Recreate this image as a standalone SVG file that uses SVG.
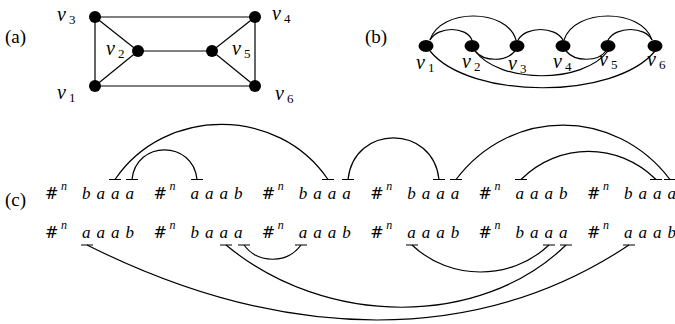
<svg xmlns="http://www.w3.org/2000/svg" width="675" height="324" viewBox="0 0 675 324">
<style>
.e{fill:none;stroke:#000;stroke-width:1.2}
.n{fill:#000}
.cap{font-family:"Liberation Serif","Times New Roman",serif;font-size:19px}
.v{font-family:"Liberation Serif","Times New Roman",serif;font-style:italic;font-size:20px}
.s{font-family:"Liberation Serif","Times New Roman",serif;font-size:13px}
.h{font-family:"DejaVu Serif",serif;font-size:16px}
.sup{font-family:"Liberation Serif","Times New Roman",serif;font-style:italic;font-size:12px}
.it{font-family:"Liberation Serif","Times New Roman",serif;font-style:italic;font-size:17px}
</style>
<rect width="675" height="324" fill="#fff"/>
<text class="cap" x="5" y="43">(a)</text>
<text class="cap" x="365" y="43">(b)</text>
<text class="cap" x="5" y="206">(c)</text>
<g id="a-edges">
<path class="e" d="M95 17H255M95 86H255M95 17V86M255 17V86M95 17L138 51L95 86M138 51H212M255 17L212 51L255 86"/>
</g>
<g id="a-v1"><circle class="n" cx="95" cy="86" r="6"/><text class="v" x="57" y="99">v</text><text class="s" x="69" y="102">1</text></g>
<g id="a-v2"><circle class="n" cx="138" cy="51" r="6"/><text class="v" x="106" y="55">v</text><text class="s" x="118" y="58">2</text></g>
<g id="a-v3"><circle class="n" cx="95" cy="17" r="6"/><text class="v" x="57" y="21">v</text><text class="s" x="69" y="24">3</text></g>
<g id="a-v4"><circle class="n" cx="255" cy="17" r="6"/><text class="v" x="272" y="20">v</text><text class="s" x="284" y="23">4</text></g>
<g id="a-v5"><circle class="n" cx="212" cy="51" r="6"/><text class="v" x="232" y="55">v</text><text class="s" x="244" y="58">5</text></g>
<g id="a-v6"><circle class="n" cx="255" cy="86" r="6"/><text class="v" x="275" y="100">v</text><text class="s" x="287" y="103">6</text></g>
<g id="b-edges">
<path class="e" d="M430 40C438 26 466 26 472 40"/>
<path class="e" d="M430 40C440 8 507 8 516 40"/>
<path class="e" d="M518 40C526 26 555 26 563 40"/>
<path class="e" d="M564 40C574 8 642 8 652 40"/>
<path class="e" d="M608 40C616 26 645 26 652 40"/>
<path class="e" d="M475 51C484 62 506 62 515 51"/>
<path class="e" d="M566 51C575 62 598 62 606 51"/>
<path class="e" d="M475 51C500 84 583 84 608 51"/>
<path class="e" d="M430 51C470 100 615 100 655 51"/>
</g>
<g id="b-v1"><ellipse class="n" cx="426" cy="46" rx="7.5" ry="6"/><text class="v" x="416" y="69">v</text><text class="s" x="428" y="72">1</text></g>
<g id="b-v2"><ellipse class="n" cx="472" cy="46" rx="7.5" ry="6"/><text class="v" x="462" y="68">v</text><text class="s" x="474" y="71">2</text></g>
<g id="b-v3"><ellipse class="n" cx="517" cy="46" rx="7.5" ry="6"/><text class="v" x="508" y="70">v</text><text class="s" x="520" y="73">3</text></g>
<g id="b-v4"><ellipse class="n" cx="563" cy="46" rx="7.5" ry="6"/><text class="v" x="553" y="68">v</text><text class="s" x="565" y="71">4</text></g>
<g id="b-v5"><ellipse class="n" cx="608" cy="46" rx="7.5" ry="6"/><text class="v" x="599" y="66">v</text><text class="s" x="611" y="69">5</text></g>
<g id="b-v6"><ellipse class="n" cx="655" cy="46" rx="7.5" ry="6"/><text class="v" x="647" y="66">v</text><text class="s" x="659" y="69">6</text></g>
<g id="row1">
<text class="h" x="45" y="199">#</text><text class="sup" x="61" y="190">n</text><text class="it" x="82 96.5 111 125.5" y="199">baaa</text>
<text class="h" x="153.4" y="199">#</text><text class="sup" x="169.4" y="190">n</text><text class="it" x="190.4 204.9 219.4 233.9" y="199">aaab</text>
<text class="h" x="261.8" y="199">#</text><text class="sup" x="277.8" y="190">n</text><text class="it" x="298.8 313.3 327.8 342.3" y="199">baaa</text>
<text class="h" x="370.2" y="199">#</text><text class="sup" x="386.2" y="190">n</text><text class="it" x="407.2 421.7 436.2 450.7" y="199">baaa</text>
<text class="h" x="478.6" y="199">#</text><text class="sup" x="494.6" y="190">n</text><text class="it" x="515.6 530.1 544.6 559.1" y="199">aaab</text>
<text class="h" x="587" y="199">#</text><text class="sup" x="603" y="190">n</text><text class="it" x="624 638.5 653 667.5" y="199">baaa</text>
</g>
<g id="row2">
<text class="h" x="45" y="238">#</text><text class="sup" x="61" y="229">n</text><text class="it" x="82 96.5 111 125.5" y="238">aaab</text>
<text class="h" x="153.4" y="238">#</text><text class="sup" x="169.4" y="229">n</text><text class="it" x="190.4 204.9 219.4 233.9" y="238">baaa</text>
<text class="h" x="261.8" y="238">#</text><text class="sup" x="277.8" y="229">n</text><text class="it" x="298.8 313.3 327.8 342.3" y="238">aaab</text>
<text class="h" x="370.2" y="238">#</text><text class="sup" x="386.2" y="229">n</text><text class="it" x="407.2 421.7 436.2 450.7" y="238">aaab</text>
<text class="h" x="478.6" y="238">#</text><text class="sup" x="494.6" y="229">n</text><text class="it" x="515.6 530.1 544.6 559.1" y="238">baaa</text>
<text class="h" x="587" y="238">#</text><text class="sup" x="603" y="229">n</text><text class="it" x="624 638.5 653 667.5" y="238">aaab</text>
</g>
<g id="c-connectors">
<path class="e" d="M109 179.5h12M126 179.5h12M191 179.5h12M322 179.5h12M342 179.5h12M433 179.5h12M450 179.5h12M515 179.5h12M650 179.5h12M664 179.5h12"/>
<path class="e" d="M81 245h12M220 245h12M238 245h12M295 245h12M406 245h12M543 245h12M560 245h12M623 245h12"/>
<path class="e" d="M115 179.5C165 106 278 106 328 179.5"/>
<path class="e" d="M132 179.5C136 140 193 140 197 179.5"/>
<path class="e" d="M348 179.5C354 124 433 124 439 179.5"/>
<path class="e" d="M456 179.5C511 107 615 107 670 179.5"/>
<path class="e" d="M521 179.5C559 142 618 142 656 179.5"/>
<path class="e" d="M244 245C258 264 287 264 301 245"/>
<path class="e" d="M412 245C450 281 511 281 549 245"/>
<path class="e" d="M226 245C326 328 481 328 566 245"/>
<path class="e" d="M87 245C287 345 479 345 629 245"/>
</g>
</svg>
